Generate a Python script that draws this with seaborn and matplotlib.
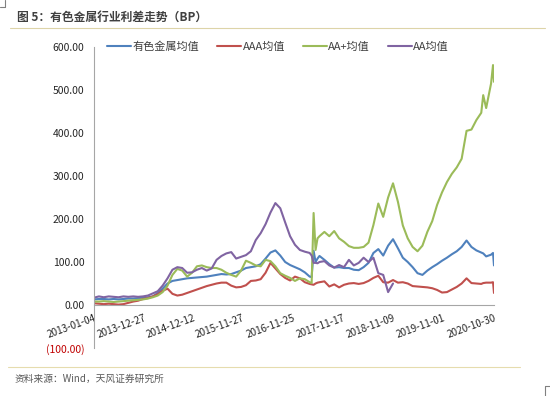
import numpy as np
import pandas as pd
import matplotlib
matplotlib.use("Agg")
import matplotlib.pyplot as plt
from matplotlib.lines import Line2D
import seaborn as sns

# ── data: weeks counted from 2013-01-04, values in BP ──
weeks = [0, 5, 10, 15, 20, 25, 30, 35, 40, 45,
         50, 55, 60, 65, 70, 75, 80, 85, 90, 95,
         100, 105, 110, 115, 120, 125, 130, 135, 140, 145,
         150, 155, 160, 165, 170, 175, 180, 185, 190, 195,
         200, 205, 210, 215, 220, 222, 224, 226, 228, 230,
         235, 240, 245, 250, 255, 260, 265, 270, 275, 280,
         285, 290, 295, 300, 305, 310, 315, 320, 325, 330,
         335, 340, 345, 350, 355, 360, 365, 370, 375, 380,
         385, 390, 395, 397, 400, 405, 407, 408]

nonferrous = [13, 14, 14, 13, 14, 13, 14, 15, 15, 16,
              17, 18, 20, 28, 38, 50, 56, 58, 60, 62,
              63, 64, 65, 66, 68, 70, 72, 71, 72, 76,
              80, 86, 88, 90, 95, 108, 122, 127, 115, 100,
              93, 88, 83, 76, 66, 65, 126, 100, 108, 114,
              105, 95, 87, 88, 86, 86, 82, 81, 88, 98,
              121, 130, 115, 138, 153, 132, 110, 100, 88, 74,
              70, 80, 88, 95, 103, 110, 118, 125, 135, 150,
              135, 127, 122, 120, 113, 117, 121, 92]

aaa = [4, 3, 2, 3, 2, 1, 2, 5, 8, 10,
       14, 16, 20, 25, 33, 38, 26, 22, 24, 28,
       32, 36, 40, 44, 47, 50, 52, 52, 45, 41,
       42, 46, 56, 57, 60, 75, 98, 85, 72, 63,
       57, 66, 62, 53, 49, 48, 47, 50, 52, 53,
       55, 43, 48, 41, 47, 50, 51, 49, 51, 56,
       63, 68, 53, 52, 58, 52, 53, 50, 44, 43,
       42, 41, 39, 35, 29, 30, 36, 42, 50, 62,
       51, 50, 49, 51, 52, 52, 53, 28]

aa_plus = [8, 8, 9, 8, 7, 8, 9, 10, 11, 12,
           13, 15, 18, 22, 30, 45, 70, 84, 80, 66,
           75, 90, 92, 88, 86, 86, 82, 75, 70, 66,
           80, 103, 98, 92, 90, 105, 102, 90, 74, 68,
           63, 56, 62, 60, 53, 51, 214, 128, 155, 160,
           170, 160, 172, 155, 147, 137, 133, 133, 135, 145,
           186, 236, 205, 250, 283, 240, 185, 155, 135, 125,
           138, 170, 195, 233, 262, 286, 305, 320, 340, 405,
           408, 430, 447, 488, 458, 515, 558, 519]

aa = [17, 20, 18, 20, 19, 18, 20, 19, 20, 19,
      20, 22, 27, 32, 45, 62, 82, 88, 86, 75,
      76, 82, 86, 80, 85, 105, 114, 120, 123, 108,
      112, 116, 125, 151, 167, 188, 215, 237, 225, 192,
      160, 140, 128, 124, 121, 115, 98, 98, 97, 100,
      102, 92, 87, 93, 88, 105, 92, 98, 110, 100,
      110, 74, 70, 30, 50] + [np.nan] * 23

series_names = ["有色金属均值", "AAA均值", "AA+均值", "AA均值"]
colors = ["#4F81BD", "#C0504D", "#9BBB59", "#8064A2"]

tick_dates = ["2013-01-04", "2013-12-27", "2014-12-12", "2015-11-27", "2016-11-25",
              "2017-11-17", "2018-11-09", "2019-11-01", "2020-10-30"]
y_ticks = [-100, 0, 100, 200, 300, 400, 500, 600]
y_tick_labels = ["(100.00)", "0.00", "100.00", "200.00", "300.00",
                 "400.00", "500.00", "600.00"]

# ── build long table ──
dates = pd.Timestamp("2013-01-04") + pd.to_timedelta(np.array(weeks) * 7, unit="D")
wide = pd.DataFrame({"date": dates,
                     series_names[0]: nonferrous,
                     series_names[1]: aaa,
                     series_names[2]: aa_plus,
                     series_names[3]: aa})
long = wide.melt(id_vars="date", var_name="series", value_name="bp").dropna()

# ── style ──
sns.set_style("white")
plt.rcParams["font.family"] = ["Noto Sans CJK SC", "DejaVu Sans"]

W, H = 550, 396
fig = plt.figure(figsize=(W / 100, H / 100), dpi=100)
ax = fig.add_axes([94 / W, 48 / H, 400 / W, 301 / H])

sns.lineplot(data=long, x="date", y="bp", hue="series", hue_order=series_names,
             palette=colors, linewidth=1.5, estimator=None, ax=ax)

ax.set_xlim(pd.Timestamp(tick_dates[0]), pd.Timestamp(tick_dates[-1]))
ax.set_ylim(-100, 600)
ax.set_xlabel("")
ax.set_ylabel("")

# axes: y spine at left, x spine through zero
for side in ["top", "right"]:
    ax.spines[side].set_visible(False)
ax.spines["left"].set_color("#a6a6a6")
ax.spines["bottom"].set_color("#a6a6a6")
ax.spines["left"].set_linewidth(0.8)
ax.spines["bottom"].set_linewidth(0.8)
ax.spines["bottom"].set_position(("data", 0))

ax.set_yticks(y_ticks)
ax.set_yticklabels(y_tick_labels)
for lbl in ax.get_yticklabels():
    lbl.set_color("#c00000" if lbl.get_text().startswith("(") else "#262626")
ax.tick_params(axis="y", direction="out", length=4, width=0.8, color="#a6a6a6",
               labelsize=7.5, pad=3)

ax.set_xticks(pd.to_datetime(tick_dates))
ax.set_xticklabels(tick_dates, rotation=20, ha="right", rotation_mode="anchor")
ax.tick_params(axis="x", direction="out", length=4, width=0.8, color="#a6a6a6",
               labelsize=7.2, pad=2, labelcolor="#262626")
for lbl in ax.get_xticklabels():
    lbl.set_verticalalignment("top")

# legend across the top
handles, labels = ax.get_legend_handles_labels()
ax.legend(handles, labels, ncol=4, loc="center", bbox_to_anchor=(0.46, 1.0),
          frameon=False, fontsize=8, handlelength=2.2, handletextpad=0.1,
          columnspacing=1.6, labelcolor="#404040")

# ── page furniture ──
fig.text(17 / W, 1 - 17 / H, "图 5：有色金属行业利差走势（BP）", fontsize=8.5,
         fontweight="bold", color="#404040", va="center", ha="left")
fig.add_artist(Line2D([10 / W, 545 / W], [1 - 28 / H] * 2, color="#ddd4a8", lw=0.8))
fig.add_artist(Line2D([8 / W, 520 / W], [1 - 367 / H] * 2, color="#e6dcae", lw=0.8))
fig.text(15 / W, 1 - 379 / H, "资料来源：Wind，天风证券研究所", fontsize=7,
         color="#595959", va="center", ha="left")
# little crop marks in the corners
fig.add_artist(Line2D([0, 5 / W, 5 / W], [1 - 7 / H, 1 - 7 / H, 1.0], color="#808080", lw=0.8))
fig.add_artist(Line2D([545 / W, 545 / W, 1.0], [0, 1 - 386 / H, 1 - 386 / H], color="#808080", lw=0.8))

fig.savefig("out.png", dpi=100)
